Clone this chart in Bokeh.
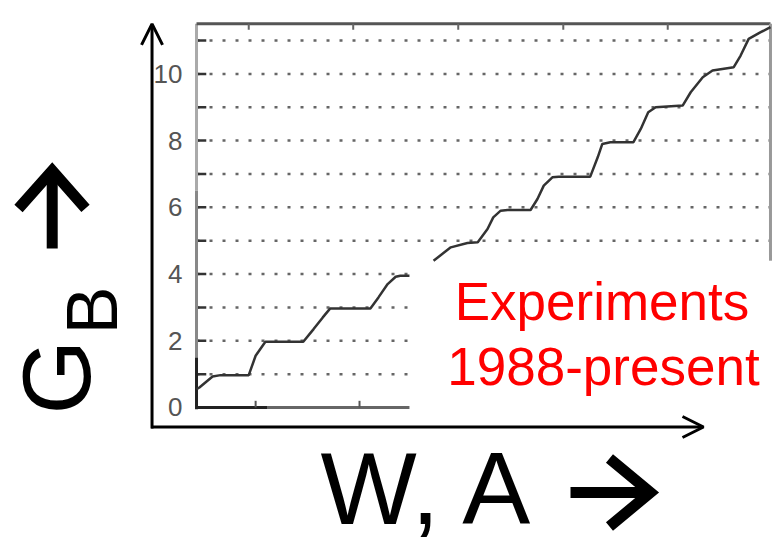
import numpy as np
from bokeh.plotting import figure
from bokeh.models import LinearAxis, FixedTicker, Arrow, OpenHead, Range1d
from bokeh.core.properties import value
from bokeh.embed import file_html
from bokeh.resources import INLINE

# ---- data read from the scanned staircase (W,A in % of scan width; G_B in units) ----
lower_w = [0.0, 0.5, 2.8, 4.2, 9.1, 10.3, 12.0, 18.6, 20.4, 22.0, 23.3, 30.3, 31.7, 33.3, 34.7, 35.5, 37.1]
lower_g = [0.55, 0.6, 0.93, 0.97, 0.97, 1.55, 1.97, 1.97, 2.35, 2.7, 2.97, 2.97, 3.3, 3.7, 3.92, 3.95, 3.95]
upper_w = [41.3, 44.3, 47.2, 49.0, 50.7, 51.7, 53.0, 54.2, 58.2, 59.4, 60.5, 62.0, 63.1, 68.6, 69.9, 70.7,
           72.1, 76.1, 77.4, 78.7, 80.0, 84.7, 86.1, 88.2, 89.9, 93.6, 94.8, 96.2, 98.3, 100.0]
upper_g = [4.4, 4.8, 4.93, 4.95, 5.35, 5.7, 5.9, 5.92, 5.92, 6.25, 6.65, 6.9, 6.92, 6.92, 7.5, 7.9,
           7.95, 7.95, 8.35, 8.85, 9.0, 9.05, 9.45, 9.9, 10.1, 10.2, 10.55, 11.05, 11.25, 11.4]

grid_levels = [1, 2, 3, 4, 5, 6, 7, 8, 9, 10, 11]
tick_values = [0, 2, 4, 6, 8, 10]
tick_labels = ["0", "2", "4", "6", "8", "10"]
top_ticks = [9.1, 27.3, 45.6, 63.9, 82.1]
bottom_ticks = [10.3, 28.4]

box_left = 37.1      # where the white text box hides the scan
scan_top = 11.5
scan_right = 100.0

FONT = "Liberation Sans"

p = figure(width=774, height=549, x_range=Range1d(-34.15, 100.70), y_range=Range1d(-4.257, 12.20),
           x_axis_type=None, y_axis_type=None, toolbar_location=None, output_backend="svg",
           min_border=0)
p.outline_line_color = None
p.background_fill_color = "white"
p.border_fill_color = "white"

yaxis = LinearAxis(fixed_location=0, ticker=FixedTicker(ticks=tick_values),
                   major_label_overrides={v: s for v, s in zip(tick_values, tick_labels)},
                   axis_line_color=None, major_tick_line_color=None, minor_tick_line_color=None,
                   major_label_text_font=FONT, major_label_text_font_size="26px",
                   major_label_text_color="#555555", major_label_standoff=8)
p.add_layout(yaxis, "left")

# dotted grid lines
grid_end = [box_left if lv <= 4 else scan_right for lv in grid_levels]
p.segment(x0=0, y0=grid_levels, x1=grid_end, y1=grid_levels, line_color="#666666",
          line_width=2.5, line_dash="3 10")
p.segment(x0=0, y0=grid_levels, x1=1.7, y1=grid_levels, line_color="#333333", line_width=2.5)

# scan frame
p.segment(x0=[0, 0, 0], y0=[scan_top, 6.5, 1.5], x1=[0, 0, 0], y1=[6.5, 1.5, -0.05],
          line_color=["#aaaaaa", "#888888", "#222222"], line_width=3)
p.segment(x0=0, y0=scan_top, x1=scan_right, y1=scan_top, line_color="#555555", line_width=3)
p.segment(x0=scan_right, y0=scan_top, x1=scan_right, y1=4.4, line_color="#999999", line_width=3)
p.segment(x0=[0, 12.4], y0=[0, 0], x1=[12.4, box_left], y1=[0, 0],
          line_color=["#222222", "#666666"], line_width=3)
p.segment(x0=top_ticks, y0=scan_top, x1=top_ticks, y1=scan_top - 0.18, line_color="#666666", line_width=2)
p.segment(x0=bottom_ticks, y0=0, x1=bottom_ticks, y1=0.2, line_color="#555555", line_width=2)

# staircase
p.line(lower_w, lower_g, line_color="#333333", line_width=2.5)
p.line(upper_w, upper_g, line_color="#333333", line_width=2.5)

# red annotation
p.text(x=[70.65, 70.9], y=[3.18, 1.23], text=["Experiments", "1988-present"],
       text_font=value(FONT), text_font_size="53px", text_color="red",
       text_align="center", text_baseline="alphabetic")

# outer axes arrows
p.add_layout(Arrow(end=OpenHead(size=21, line_width=3, line_color="black"),
                   x_start=-7.75, y_start=-0.63, x_end=-7.75, y_end=11.5,
                   line_width=3, line_color="black"))
p.add_layout(Arrow(end=OpenHead(size=21, line_width=3, line_color="black"),
                   x_start=-7.9, y_start=-0.585, x_end=88.33, y_end=-0.585,
                   line_width=3, line_color="black"))

# axis labels
p.text(x=[-24.46], y=[-0.21], text=["G"], angle=np.pi / 2, text_font=value(FONT),
       text_font_size="96px", text_color="black", text_align="left", text_baseline="alphabetic")
p.text(x=[-18.29], y=[2.19], text=["B"], angle=np.pi / 2, text_font=value(FONT),
       text_font_size="72px", text_color="black", text_align="left", text_baseline="alphabetic")
p.text(x=[21.6], y=[-2.437], text=["W, A"], text_font=value(FONT),
       text_font_size="102px", text_color="black", text_align="left", text_baseline="alphabetic")

# label arrows
p.segment(x0=65.16, y0=-2.548, x1=78.22, y1=-2.548, line_width=11, line_color="black")
p.line([71.95, 79.09, 71.95], [-1.529, -2.548, -3.567], line_width=11, line_color="black",
       line_join="miter")
p.segment(x0=-25.14, y0=4.766, x1=-25.14, y1=6.95, line_width=11, line_color="black")
p.line([-31.01, -25.14, -19.34], [5.965, 7.104, 5.965], line_width=11, line_color="black",
       line_join="miter")

open("out.html", "w").write(file_html(p, INLINE))
